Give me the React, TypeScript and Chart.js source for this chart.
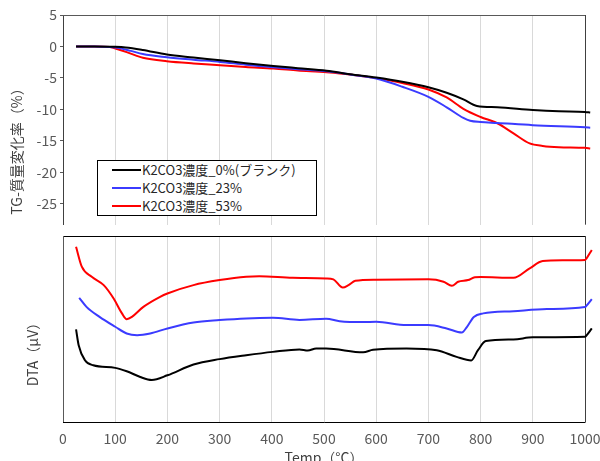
import React, { useEffect, useRef } from 'react';
import { Chart, registerables } from 'chart.js';

Chart.register(...registerables);

// ---------- data ----------
const seriesLabels = ['K2CO3濃度_0%(ブランク)', 'K2CO3濃度_23%', 'K2CO3濃度_53%'];
const seriesColors = ['#000000', '#3b3bff', '#ff0000'];

const tgTicks = [5, 0, -5, -10, -15, -20, -25];
const xTicks = [0, 100, 200, 300, 400, 500, 600, 700, 800, 900, 1000];

// TG (%)
const tgBlackT = [25, 60, 100, 120, 153, 199, 250, 301, 350, 403, 450, 505, 550, 600, 650, 700, 735, 767, 793, 832, 900, 950, 1000, 1010];
const tgBlack = [0, 0, -0.05, -0.15, -0.56, -1.28, -1.75, -2.2, -2.65, -3.1, -3.45, -3.85, -4.4, -4.93, -5.6, -6.47, -7.35, -8.4, -9.45, -9.66, -10.1, -10.3, -10.4, -10.5];

const tgBlueT = [25, 60, 90, 110, 130, 153, 199, 250, 301, 350, 403, 450, 505, 550, 600, 650, 700, 735, 767, 780, 800, 832, 900, 1000, 1010];
const tgBlue = [0, 0, -0.1, -0.3, -0.7, -1.2, -1.7, -2.1, -2.45, -2.9, -3.3, -3.6, -3.95, -4.45, -5.1, -6.4, -8.0, -9.66, -11.36, -11.8, -12.0, -12.15, -12.5, -12.85, -12.9];

const tgRedT = [25, 60, 90, 105, 122, 140, 153, 199, 250, 301, 350, 403, 450, 505, 550, 600, 650, 700, 735, 767, 800, 832, 863, 894, 919, 950, 1000, 1010];
const tgRed = [0, 0, -0.1, -0.45, -0.9, -1.45, -1.8, -2.35, -2.7, -2.97, -3.25, -3.5, -3.8, -4.1, -4.45, -5.03, -5.8, -6.83, -8.1, -9.9, -11.2, -12.2, -13.8, -15.4, -15.8, -16.0, -16.1, -16.2];

// DTA (relative, arbitrary units)
const dtaBlackT = [25, 30, 42, 58, 100, 122, 148, 170, 200, 250, 300, 351, 402, 453, 469, 485, 504, 575, 594, 658, 716, 754, 782, 795, 810, 863, 900, 1000, 1003, 1013];
const dtaBlack = [49.8, 41.3, 33.2, 30.5, 29.1, 27.3, 24.2, 22.6, 25.1, 30.9, 33.8, 35.9, 37.7, 39, 38.4, 39.5, 39.5, 37.5, 38.8, 39.5, 38.6, 35, 33.1, 38.6, 43.5, 44.4, 45.5, 45.8, 46.6, 50.3];

const dtaBlueT = [31, 45, 70, 100, 122, 142, 167, 200, 250, 300, 351, 402, 453, 504, 530, 575, 600, 658, 700, 735, 764, 774, 787, 805, 863, 927, 1000, 1003, 1013];
const dtaBlue = [66.8, 61.9, 56.5, 51.2, 47.6, 46.7, 47.6, 50.3, 53.5, 54.8, 55.7, 56, 54.9, 55.5, 54.2, 53.7, 53.9, 52.1, 52.1, 50.3, 48.1, 51.2, 56.5, 58.4, 59.6, 60.7, 61.8, 62.6, 66.1];

const dtaRedT = [25, 36, 55, 78, 97, 113, 122, 132, 154, 186, 200, 250, 300, 351, 376, 440, 504, 518, 536, 547, 560, 600, 700, 729, 745, 757, 776, 789, 800, 863, 894, 919, 957, 1000, 1003, 1013];
const dtaRed = [94.2, 83.5, 78.1, 73.6, 66.4, 58.4, 55.3, 56.5, 61.9, 67.3, 69.1, 73.6, 76.3, 78.1, 78.3, 77.5, 77.2, 76.7, 72.3, 73.6, 75.9, 76.5, 76.7, 75.4, 73.2, 75.4, 76.3, 77.8, 77.9, 77.5, 82.6, 86.5, 86.9, 87.1, 88.0, 92.5];

const tgTitle = 'TG-質量変化率（%）';
const dtaTitle = 'DTA（μV）';
const xTitle = 'Temp（°C）';

// ---------- helpers ----------
const FONT = '"Noto Sans CJK JP", "Noto Sans", sans-serif';
const toPts = (xs: number[], ys: number[]) => xs.map((x, i) => ({ x, y: ys[i] }));

const makeDatasets = (sets: [number[], number[]][]) =>
  sets.map(([xs, ys], i) => ({
    label: seriesLabels[i],
    data: toPts(xs, ys),
    borderColor: seriesColors[i],
    backgroundColor: seriesColors[i],
    borderWidth: 2,
    pointRadius: 0,
    cubicInterpolationMode: 'monotone' as const,
    clip: false as const,
  }));

const framePlugin = (sides: { top?: string; right?: string; bottom?: string; left?: string }) => ({
  id: 'frame',
  beforeDatasetsDraw(chart: any) {
    const { ctx, chartArea: a } = chart;
    ctx.save();
    ctx.lineWidth = 1;
    const line = (c: string, x1: number, y1: number, x2: number, y2: number) => {
      ctx.strokeStyle = c;
      ctx.beginPath();
      ctx.moveTo(x1, y1);
      ctx.lineTo(x2, y2);
      ctx.stroke();
    };
    if (sides.top) line(sides.top, a.left, Math.round(a.top) + 0.5, a.right + 0.5, Math.round(a.top) + 0.5);
    if (sides.right) line(sides.right, Math.round(a.right) + 0.5, a.top, Math.round(a.right) + 0.5, a.bottom);
    if (sides.bottom) line(sides.bottom, a.left, Math.round(a.bottom) + 0.5, a.right + 0.5, Math.round(a.bottom) + 0.5);
    if (sides.left) line(sides.left, Math.round(a.left) + 0.5, a.top, Math.round(a.left) + 0.5, a.bottom);
    ctx.restore();
  },
});

const titlesPlugin = (items: { text: string; x: number; y: number; rotate: boolean }[]) => ({
  id: 'titles',
  afterDraw(chart: any) {
    const ctx = chart.ctx;
    ctx.save();
    ctx.fillStyle = '#404040';
    ctx.font = `14px ${FONT}`;
    ctx.textAlign = 'center';
    ctx.textBaseline = 'middle';
    items.forEach((it) => {
      ctx.save();
      ctx.translate(it.x, it.y);
      if (it.rotate) ctx.rotate(-Math.PI / 2);
      ctx.fillText(it.text, 0, 0);
      ctx.restore();
    });
    ctx.restore();
  },
});

const noPad = (s: any) => {
  s.paddingLeft = 0;
  s.paddingRight = 0;
};

// x range fixed after data limits so that points just past 1000 are still drawn
const fixX = (s: any) => {
  s.min = xTicks[0];
  s.max = xTicks[xTicks.length - 1];
};

export default function App() {
  const topRef = useRef<HTMLCanvasElement>(null);
  const botRef = useRef<HTMLCanvasElement>(null);

  useEffect(() => {
    const tickFont = { family: FONT, size: 14 };
    const top = new Chart(topRef.current!, {
      type: 'line',
      data: {
        datasets: makeDatasets([
          [tgBlackT, tgBlack],
          [tgBlueT, tgBlue],
          [tgRedT, tgRed],
        ]) as any,
      },
      options: {
        animation: false,
        responsive: false,
        maintainAspectRatio: false,
        layout: { padding: { top: 15, right: 15, bottom: 6, left: 0 } },
        plugins: { legend: { display: false }, tooltip: { enabled: false } },
        scales: {
          x: {
            type: 'linear',
            afterDataLimits: fixX,
            afterBuildTicks: (s: any) => {
              s.ticks = xTicks.map((v) => ({ value: v }));
            },
            ticks: { display: false },
            grid: { color: '#d9d9d9', drawTicks: false },
            border: { display: false },
            afterFit: (s: any) => {
              s.height = 0;
              noPad(s);
            },
          },
          y: {
            type: 'linear',
            min: -28.3,
            max: 5,
            afterBuildTicks: (s: any) => {
              s.ticks = tgTicks.map((v) => ({ value: v }));
            },
            ticks: { font: tickFont, color: '#595959', padding: 3 },
            grid: { drawOnChartArea: false, tickLength: 3, tickColor: '#595959' },
            border: { color: '#404040' },
            afterFit: (s: any) => {
              s.width = 63;
            },
          },
        },
      } as any,
      plugins: [
        framePlugin({ top: '#595959', right: '#404040' }),
        titlesPlugin([{ text: tgTitle, x: 17, y: 148, rotate: true }]),
      ],
    });

    const bot = new Chart(botRef.current!, {
      type: 'line',
      data: {
        datasets: makeDatasets([
          [dtaBlackT, dtaBlack],
          [dtaBlueT, dtaBlue],
          [dtaRedT, dtaRed],
        ]) as any,
      },
      options: {
        animation: false,
        responsive: false,
        maintainAspectRatio: false,
        layout: { padding: { top: 5, right: 15, bottom: 0, left: 0 } },
        plugins: { legend: { display: false }, tooltip: { enabled: false } },
        scales: {
          x: {
            type: 'linear',
            afterDataLimits: fixX,
            afterBuildTicks: (s: any) => {
              s.ticks = xTicks.map((v) => ({ value: v }));
            },
            ticks: {
              font: tickFont,
              color: '#595959',
              padding: 8,
              maxRotation: 0,
              autoSkip: false,
              callback: (v: any) => String(v),
            },
            grid: { color: '#d9d9d9', drawTicks: false },
            border: { display: false },
            afterFit: (s: any) => {
              s.height = 39;
              noPad(s);
            },
          },
          y: {
            type: 'linear',
            min: 0,
            max: 100,
            ticks: { display: false },
            grid: { display: false },
            border: { display: false },
            afterFit: (s: any) => {
              s.width = 63;
            },
          },
        },
      } as any,
      plugins: [
        framePlugin({ top: '#000000', right: '#404040', bottom: '#000000', left: '#595959' }),
        titlesPlugin([
          { text: dtaTitle, x: 33, y: 120, rotate: true },
          { text: xTitle, x: 324, y: 227, rotate: false },
        ]),
      ],
    });

    return () => {
      top.destroy();
      bot.destroy();
    };
  }, []);

  return (
    <div
      style={{
        position: 'fixed',
        left: 0,
        top: 0,
        width: 600,
        height: 461,
        overflow: 'hidden',
        background: '#fff',
      }}
    >
      <canvas
        ref={topRef}
        width={600}
        height={236}
        style={{ position: 'absolute', left: 0, top: 0, width: 600, height: 236 }}
      />
      <canvas
        ref={botRef}
        width={600}
        height={230}
        style={{ position: 'absolute', left: 0, top: 231, width: 600, height: 230 }}
      />
      <div
        style={{
          position: 'absolute',
          left: 97,
          top: 160,
          width: 220,
          height: 56,
          boxSizing: 'border-box',
          border: '1px solid #000',
          background: '#fff',
          fontFamily: FONT,
          fontSize: 13,
          color: '#262626',
          paddingTop: 0,
        }}
      >
        {seriesLabels.map((lab, i) => (
          <div key={lab} style={{ display: 'flex', alignItems: 'center', height: 18, lineHeight: '18px' }}>
            <span
              style={{
                display: 'inline-block',
                marginLeft: 14,
                width: 29,
                height: 2,
                background: seriesColors[i],
                marginRight: 1,
              }}
            />
            <span style={{ whiteSpace: 'nowrap' }}>{lab}</span>
          </div>
        ))}
      </div>
    </div>
  );
}
